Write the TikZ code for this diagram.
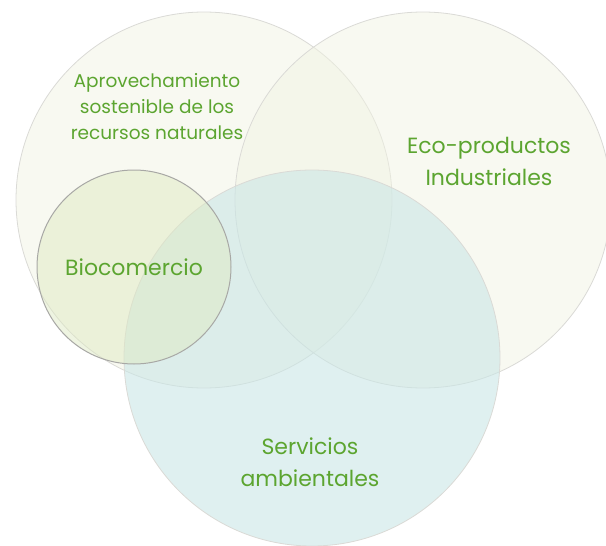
\documentclass[tikz,border=0pt]{standalone}
\usepackage{fontspec}
\setmainfont{Poppins}
\usetikzlibrary{positioning}
\definecolor{labelgreen}{RGB}{92,165,48}
\definecolor{paleleaf}{RGB}{241,243,227}
\definecolor{paleaqua}{RGB}{202,230,230}
\definecolor{softleaf}{RGB}{222,233,195}
\definecolor{ringgray}{RGB}{218,218,214}
\definecolor{rimgray}{RGB}{168,168,165}

\begin{document}
\begin{tikzpicture}[x=1pt,y=-1pt,
		bigset/.style={circle,draw=ringgray,line width=0.8pt,minimum size=376pt,inner sep=0pt},
		smallset/.style={circle,draw=rimgray,line width=1pt,fill=softleaf,fill opacity=0.5,
			draw opacity=1,minimum size=194pt,inner sep=0pt},
		setlabel/.style={text=labelgreen,align=center,font=\fontsize{22}{32}\selectfont},
		sublabel/.style={text=labelgreen,align=center,font=\fontsize{18.5}{26}\selectfont}]
	\useasboundingbox (0,0) rectangle (606,546);
	% the three big sets
	\node[bigset,fill=paleleaf,fill opacity=0.5] (recursos) at (204,200) {};
	\node[bigset,fill=paleleaf,fill opacity=0.5] (eco) at (423,200) {};
	\node[bigset,fill=paleaqua,fill opacity=0.6] (servicios) at (312,358) {};
	% biocomercio inside
	\node[smallset] (bio) at (134,267) {};
	% labels
	\node[sublabel] (recursostxt) at (157,107) {Aprovechamiento\\sostenible de los\\recursos naturales};
	\node[setlabel] (ecotxt) at (489,161) {Eco-productos\\Industriales};
	\node[setlabel] (biotxt) at (bio.center) {Biocomercio};
	\node[setlabel] (serviciostxt) at (310,462) {Servicios\\ambientales};
\end{tikzpicture}
\end{document}
